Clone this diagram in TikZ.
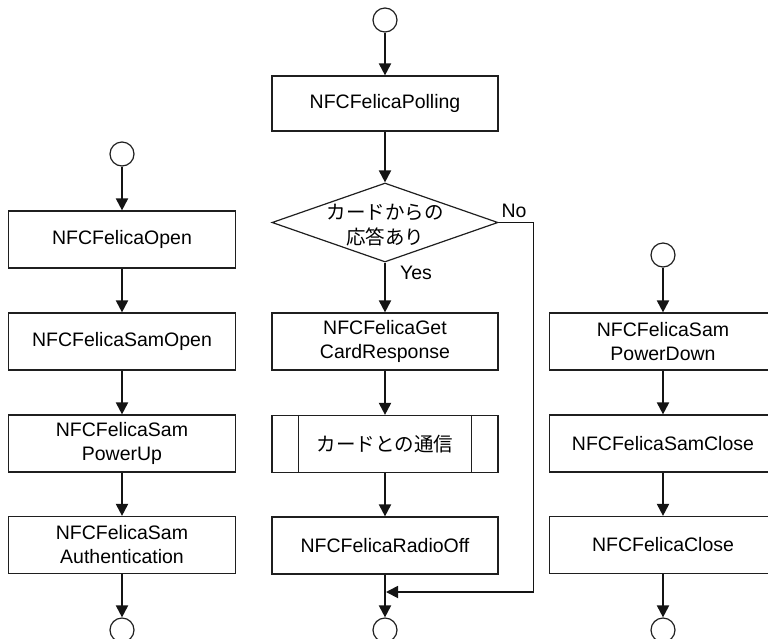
\documentclass[tikz,border=0pt]{standalone}
\usepackage{fontspec}
\setmainfont{Liberation Sans}
\newfontfamily\jpfont{Noto Sans CJK JP}
\usetikzlibrary{arrows.meta,shapes.geometric,calc}

\tikzset{
  stepbox/.style={draw=black!88, line width=1.2pt, rectangle,
    minimum width=227pt, minimum height=57pt, inner sep=0pt,
    align=center, font=\fontsize{19.5}{24}\selectfont},
  term/.style={draw=black!88, line width=1.2pt, circle, minimum size=24pt, inner sep=0pt},
  decision/.style={draw=black!88, line width=1.2pt, diamond,
    minimum width=226pt, minimum height=79pt, inner sep=0pt},
  arr/.style={draw=black!92, line width=2pt, -{Triangle[length=12pt,width=12pt]}},
  flowlabel/.style={font=\fontsize{19.5}{24}\selectfont, inner sep=0pt}
}

\begin{document}
\begin{tikzpicture}[x=1pt, y=-1pt]
  \useasboundingbox (0,0) rectangle (768,638);
  \clip (0,0) rectangle (768,638);

  % ---- left column: open and authenticate ----
  \node[term] (ls) at (122,154) {};
  \node[stepbox] (open) at (122,239.5) {NFCFelicaOpen};
  \node[stepbox] (samopen) at (122,341.5) {NFCFelicaSamOpen};
  \node[stepbox] (pwrup) at (122,443.5) {NFCFelicaSam\\PowerUp};
  \node[stepbox] (auth) at (122,545) {NFCFelicaSam\\Authentication};
  \node[term] (le) at (122,630) {};

  \draw[arr] (ls) -- (open);
  \draw[arr] (open) -- (samopen);
  \draw[arr] (samopen) -- (pwrup);
  \draw[arr] (pwrup) -- (auth);
  \draw[arr] (auth) -- (le);

  % ---- centre column: polling and card communication ----
  \node[term] (cs) at (385,20) {};
  \node[stepbox, minimum width=226pt, minimum height=55pt] (poll) at (385,103.5) {NFCFelicaPolling};
  \node[decision, label={[align=center, font=\jpfont\fontsize{19.5}{25}\selectfont, yshift=-3pt]center:カードからの\\応答あり}] (dec) at (385,222.5) {};
  \node[stepbox, minimum width=226pt] (getresp) at (385,341.5) {NFCFelicaGet\\CardResponse};
  \node[stepbox, minimum width=226pt, font=\jpfont\fontsize{19.5}{24}\selectfont] (comm) at (385,444) {カードとの通信};
  \draw[draw=black!88, line width=1.2pt]
    ($(comm.north west)+(27,0)$) -- ($(comm.south west)+(27,0)$)
    ($(comm.north east)+(-27,0)$) -- ($(comm.south east)+(-27,0)$);
  \node[stepbox, minimum width=226pt] (radiooff) at (385,545.5) {NFCFelicaRadioOff};
  \node[term] (ce) at (385,630) {};

  \node[flowlabel] (yes) at (416,273) {Yes};
  \node[flowlabel] (no) at (514,211) {No};

  \draw[arr] (cs) -- (poll);
  \draw[arr] (poll) -- (dec);
  \draw[arr] (dec) -- (getresp);
  \draw[arr] (getresp) -- (comm);
  \draw[arr] (comm) -- (radiooff);
  \draw[arr] (radiooff) -- (ce);

  \coordinate (join) at (386,592);
  \coordinate (noturn) at (533.5,222.5);
  \draw[arr, line width=1.8pt] (dec.east) -- (noturn) |- (join);

  % ---- right column: power down and close ----
  \node[term] (rs) at (663,255) {};
  \node[stepbox] (pwrdown) at (663,341.5) {NFCFelicaSam\\PowerDown};
  \node[stepbox] (samclose) at (663,443.5) {NFCFelicaSamClose};
  \node[stepbox] (close) at (663,545) {NFCFelicaClose};
  \node[term] (re) at (663,630) {};

  \draw[arr] (rs) -- (pwrdown);
  \draw[arr] (pwrdown) -- (samclose);
  \draw[arr] (samclose) -- (close);
  \draw[arr] (close) -- (re);
\end{tikzpicture}
\end{document}
